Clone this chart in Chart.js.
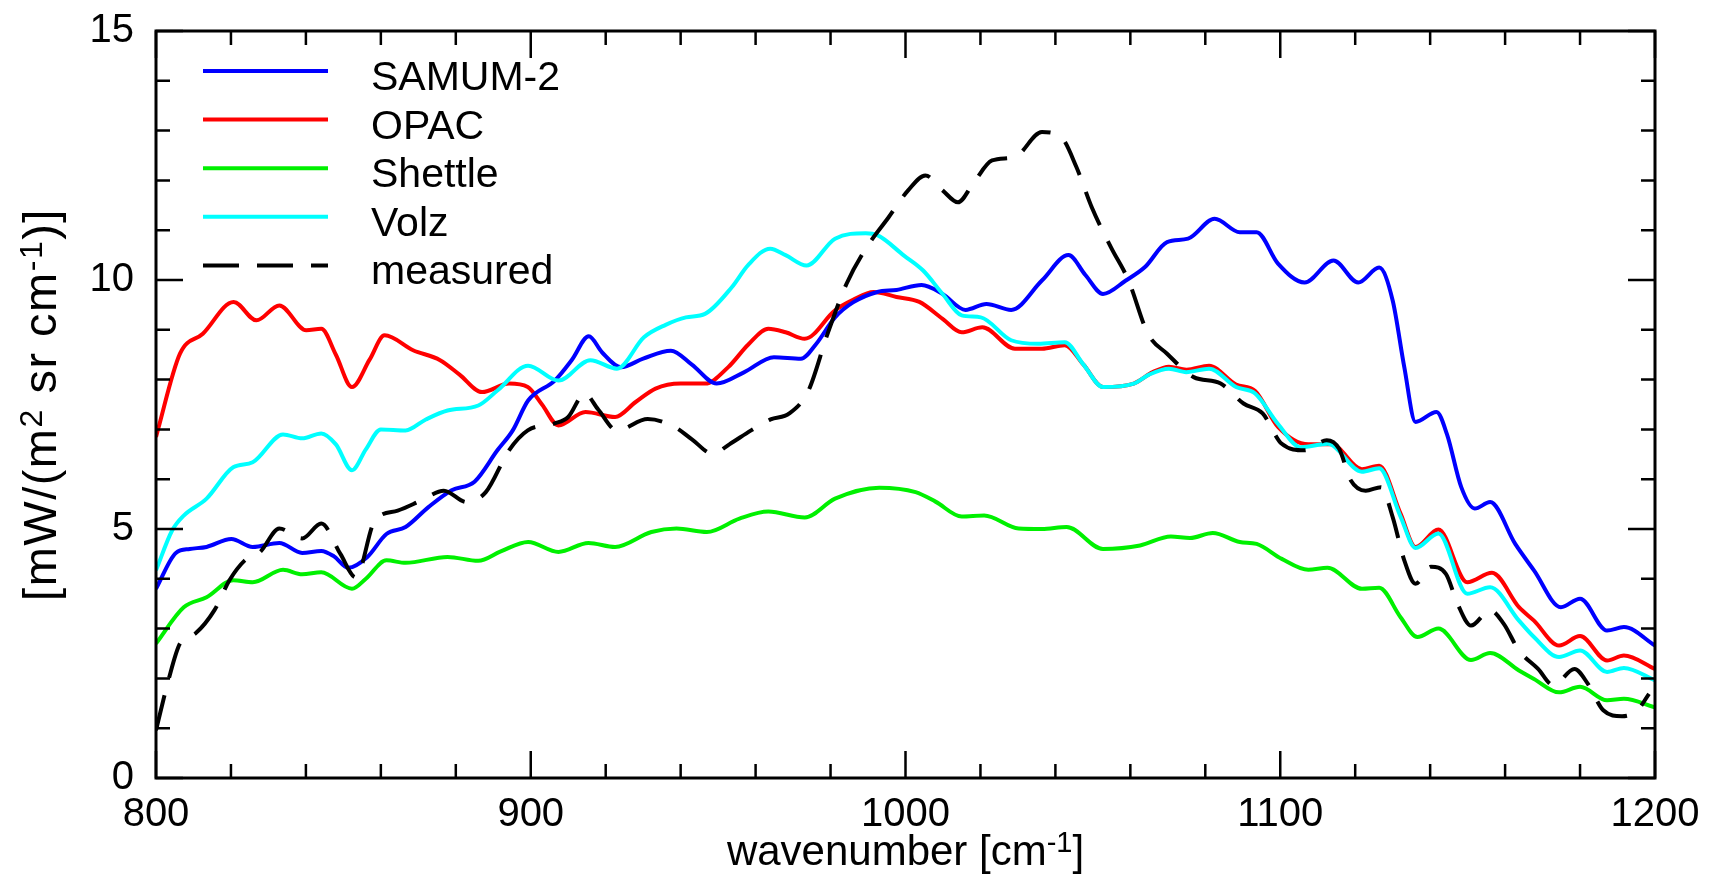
<!DOCTYPE html>
<html>
<head>
<meta charset="utf-8">
<script src="https://cdn.jsdelivr.net/npm/chart.js@4.4.1/dist/chart.umd.min.js"></script>
<style>
  html, body { margin: 0; padding: 0; background: #fff; }
  canvas { display: block; }
</style>
</head>
<body>
<canvas id="spectrumChart" width="1710" height="886"></canvas>
<script>
// [wavenumber cm-1, radiance mW/(m2 sr cm-1)]
const samum2 = [
  [800, 3.8], [805.3, 4.52], [809, 4.6], [813.5, 4.64], [820.1, 4.8], [825.8, 4.64], [832.9, 4.72],
  [839, 4.52], [844.1, 4.56], [847.5, 4.45], [851.3, 4.22], [856.4, 4.44], [861.5, 4.9], [866.6, 5.04],
  [872.7, 5.44], [878.9, 5.78], [885, 5.95], [891.1, 6.58], [895.2, 6.98], [899.3, 7.58], [906.4, 7.98],
  [911, 8.4], [915.5, 8.87], [919, 8.55], [924.1, 8.25], [930, 8.42], [937.4, 8.58], [943, 8.3],
  [949.6, 7.92], [957, 8.15], [964.9, 8.45], [972.1, 8.42], [976, 8.7], [981.2, 9.25], [986, 9.55],
  [992.5, 9.76], [997.6, 9.8], [1004.3, 9.9], [1009.9, 9.72], [1016, 9.4], [1021.6, 9.52], [1028.2, 9.4],
  [1036.4, 9.99], [1043.5, 10.5], [1048, 10.1], [1052.7, 9.72], [1058.8, 9.99], [1063.9, 10.26],
  [1069.8, 10.76], [1075.4, 10.83], [1082.5, 11.23], [1089.2, 10.96], [1093.7, 10.96], [1099.4, 10.33],
  [1106.5, 9.95], [1114.2, 10.39], [1120.8, 9.95], [1126.4, 10.25], [1130, 9.59], [1133.1, 8.25],
  [1136.1, 7.15], [1141.7, 7.35], [1144.5, 6.9], [1148.3, 5.84], [1151.9, 5.41], [1156, 5.54],
  [1162.7, 4.7], [1167.7, 4.17], [1174.9, 3.43], [1180, 3.6], [1187.2, 2.96], [1191.7, 3.03], [1200, 2.66]
];

const opac = [
  [800, 6.85], [806.4, 8.52], [812.5, 8.92], [820.7, 9.56], [826.8, 9.19], [832.9, 9.49], [840.1, 8.99],
  [844.1, 9.02], [848, 8.5], [852.3, 7.85], [857, 8.4], [861, 8.89], [868.6, 8.59], [875.8, 8.39],
  [881, 8.1], [887, 7.75], [894.2, 7.92], [899.2, 7.85], [903, 7.5], [907.4, 7.08], [914.6, 7.35],
  [922.5, 7.25], [928, 7.55], [933.3, 7.82], [940, 7.92], [946.5, 7.92], [952.7, 8.25], [958, 8.7],
  [963.4, 9.02], [968, 8.95], [973.1, 8.82], [981.2, 9.39], [986, 9.6], [991.5, 9.76], [997.6, 9.66],
  [1003.7, 9.56], [1009.9, 9.22], [1015, 8.95], [1020.5, 9.05], [1029.2, 8.62], [1036.4, 8.62],
  [1042.5, 8.69], [1047.5, 8.3], [1052.7, 7.85], [1060.9, 7.92], [1066, 8.15], [1070.3, 8.26],
  [1075, 8.2], [1081, 8.28], [1088.2, 7.9], [1093.3, 7.77], [1099.4, 7.05], [1107.5, 6.7],
  [1113.7, 6.7], [1121.8, 6.2], [1126.4, 6.27], [1132.1, 5.31], [1136.1, 4.64], [1142.2, 4.99],
  [1149.9, 3.93], [1156.5, 4.12], [1163.7, 3.43], [1167.7, 3.16], [1174.4, 2.66], [1180, 2.85],
  [1187.2, 2.36], [1191.7, 2.46], [1200, 2.19]
];

const shettle = [
  [800, 2.7], [807.4, 3.43], [813.5, 3.63], [820.6, 3.97], [825.8, 3.93], [833.9, 4.18], [839, 4.09],
  [844.1, 4.13], [852.3, 3.8], [856, 4.0], [861.5, 4.37], [866.6, 4.32], [877.8, 4.44], [886, 4.36],
  [892, 4.55], [899.3, 4.74], [907.4, 4.54], [915.4, 4.72], [922.5, 4.64], [932.2, 4.94], [938.9, 5.01],
  [947, 4.94], [955.7, 5.21], [963.4, 5.35], [973.1, 5.23], [981.2, 5.61], [993, 5.83], [1002.7, 5.74],
  [1008, 5.55], [1015, 5.25], [1021, 5.27], [1030.2, 5.01], [1036.4, 5.0], [1043, 5.04], [1052.7, 4.6],
  [1062.6, 4.67], [1070.8, 4.85], [1075.9, 4.82], [1082, 4.92], [1089.2, 4.74], [1093.7, 4.7],
  [1100.4, 4.4], [1107.5, 4.18], [1112.6, 4.22], [1121.8, 3.8], [1126.4, 3.82], [1132.1, 3.23],
  [1136.6, 2.83], [1142.2, 3.0], [1150.9, 2.37], [1156, 2.51], [1163.7, 2.16], [1167.7, 1.99],
  [1174.4, 1.72], [1180, 1.83], [1187.2, 1.56], [1191.7, 1.59], [1200, 1.42]
];

const volz = [
  [800, 4.17], [804.3, 4.97], [807.4, 5.27], [813.5, 5.61], [820.6, 6.24], [825.8, 6.34], [833.9, 6.9],
  [839, 6.82], [844.1, 6.92], [848, 6.7], [852.3, 6.18], [856, 6.6], [860, 7.0], [866.6, 6.98],
  [872, 7.2], [877.8, 7.38], [886, 7.48], [891.1, 7.78], [899.3, 8.28], [907.4, 7.98], [915.9, 8.39],
  [923, 8.22], [930.2, 8.85], [936, 9.1], [941.4, 9.25], [946.5, 9.32], [953.7, 9.86], [958, 10.3],
  [963.9, 10.63], [968, 10.5], [973.6, 10.29], [981.2, 10.83], [989.4, 10.94], [992.5, 10.9],
  [999.6, 10.49], [1004.7, 10.19], [1009.9, 9.72], [1015, 9.29], [1020.1, 9.25], [1028.2, 8.79],
  [1035.4, 8.72], [1042.5, 8.75], [1047.5, 8.3], [1052.7, 7.85], [1060.9, 7.92], [1065, 8.1],
  [1070.3, 8.22], [1074.9, 8.15], [1081, 8.22], [1088.2, 7.85], [1093.3, 7.72], [1099.4, 7.11],
  [1105.5, 6.64], [1112.7, 6.71], [1121.8, 6.15], [1126.4, 6.22], [1132.1, 5.25], [1136.1, 4.62],
  [1142.2, 4.91], [1149.9, 3.7], [1156, 3.83], [1163.7, 3.16], [1167.7, 2.83], [1174.4, 2.43],
  [1180, 2.56], [1187.2, 2.13], [1191.7, 2.21], [1200, 1.96]
];

const measured = [
  [800, 0.96], [803.3, 1.96], [806.4, 2.7], [810.5, 2.9], [815.6, 3.37], [819.6, 3.97], [823.7, 4.37],
  [827.8, 4.54], [832.9, 5.01], [839, 4.81], [844.1, 5.11], [849.2, 4.5], [853.3, 4.03], [858.4, 5.17],
  [864.5, 5.37], [870.7, 5.57], [876.8, 5.77], [882.9, 5.54], [888, 5.74], [894.2, 6.58], [899.2, 6.98],
  [906.4, 7.12], [910, 7.25], [914.4, 7.72], [918, 7.4], [923, 6.98], [931.2, 7.21], [938.4, 7.05],
  [943, 6.8], [948.6, 6.51], [953, 6.7], [958.8, 6.98], [964, 7.2], [969, 7.32], [974.1, 7.78],
  [979.2, 8.92], [984.3, 9.93], [989.4, 10.63], [995.5, 11.26], [1000.7, 11.8], [1005.3, 12.1],
  [1009.9, 11.8], [1014, 11.56], [1018, 11.93], [1023.1, 12.4], [1029.2, 12.47], [1036.4, 12.97],
  [1041.5, 12.87], [1045.6, 12.27], [1049.7, 11.46], [1054.8, 10.66], [1059.5, 9.99], [1064.7, 8.92],
  [1069.8, 8.52], [1076.9, 8.05], [1084.1, 7.92], [1090.2, 7.52], [1095.3, 7.32], [1100.4, 6.71],
  [1106.5, 6.58], [1112.4, 6.78], [1115.7, 6.61], [1118.8, 5.98], [1122.8, 5.77], [1126.9, 5.84],
  [1130, 5.24], [1133.1, 4.37], [1136.1, 3.9], [1140.2, 4.24], [1144.2, 4.1], [1147.3, 3.5],
  [1150.9, 3.06], [1156, 3.37], [1159.6, 3.1], [1163.7, 2.56], [1168.8, 2.19], [1172.9, 1.86],
  [1178.5, 2.19], [1182.1, 1.89], [1186.2, 1.36], [1191.2, 1.24], [1195.3, 1.36], [1198.4, 1.69]
];

const xRange = [800, 1200];
const yRange = [0, 15];
const xMajor = 100, xMinor = 20;
const yMajor = 5, yMinor = 1;

// axis titles, pieces flagged sup are raised superscripts
const xTitle = [['wavenumber [cm'], ['-1', 'sup'], [']']];
const yTitle = [['[mW/(m'], ['2', 'sup'], [' sr cm'], ['-1', 'sup'], [')]']];

const FONT = '"Liberation Sans", Arial, Helvetica, sans-serif';
Chart.defaults.font.family = FONT;
Chart.defaults.font.size = 40;
Chart.defaults.color = '#000';

const makeSet = (label, rows, color, order, dash) => ({
    label,
    data: rows.map(([x, y]) => ({ x, y })),
    borderColor: color,
    borderWidth: 4,
    borderDash: dash || [],
    pointRadius: 0,
    fill: false,
    cubicInterpolationMode: 'monotone',
    order,
});

// inward ticks on all four sides + frame
const frameTicks = {
    id: 'frameTicks',
    afterDatasetsDraw(chart) {
        const { ctx, chartArea: a, scales: { x, y } } = chart;
        ctx.save();
        ctx.strokeStyle = '#000';
        ctx.lineWidth = 2.5;
        ctx.beginPath();
        for (let v = xRange[0]; v <= xRange[1]; v += xMinor) {
            const px = x.getPixelForValue(v);
            const len = v % xMajor === 0 ? 27 : 14;
            ctx.moveTo(px, a.bottom); ctx.lineTo(px, a.bottom - len);
            ctx.moveTo(px, a.top); ctx.lineTo(px, a.top + len);
        }
        for (let v = yRange[0]; v <= yRange[1]; v += yMinor) {
            const py = y.getPixelForValue(v);
            const len = v % yMajor === 0 ? 27 : 14;
            ctx.moveTo(a.left, py); ctx.lineTo(a.left + len, py);
            ctx.moveTo(a.right, py); ctx.lineTo(a.right - len, py);
        }
        ctx.stroke();
        ctx.lineWidth = 3;
        ctx.strokeRect(a.left, a.top, a.width, a.height);
        ctx.restore();
    }
};

// legend drawn inside the plot, top-left
const insideLegend = {
    id: 'insideLegend',
    afterDraw(chart) {
        const { ctx, chartArea: a } = chart;
        ctx.save();
        ctx.font = '41px ' + FONT;
        ctx.textBaseline = 'alphabetic';
        chart.data.datasets.forEach((ds, i) => {
            const ly = a.top + 40 + i * 48.6;
            ctx.strokeStyle = ds.borderColor;
            ctx.lineWidth = 4;
            ctx.setLineDash(ds.borderDash);
            ctx.beginPath();
            ctx.moveTo(a.left + 47, ly);
            ctx.lineTo(a.left + 172, ly);
            ctx.stroke();
            ctx.setLineDash([]);
            ctx.fillStyle = '#000';
            ctx.fillText(ds.label, a.left + 215, ly + 19);
        });
        ctx.restore();
    }
};

// titles with real superscripts
function drawRich(ctx, parts, size, spacing) {
    const supSize = Math.round(size * 0.68);
    const fontOf = p => (p[1] === 'sup' ? supSize : size) + 'px ' + FONT;
    ctx.letterSpacing = spacing + 'px';
    let total = 0;
    parts.forEach(p => { ctx.font = fontOf(p); total += ctx.measureText(p[0]).width; });
    let cx = -total / 2;
    parts.forEach(p => {
        ctx.font = fontOf(p);
        ctx.fillText(p[0], cx, p[1] === 'sup' ? -size * 0.3 : 0);
        cx += ctx.measureText(p[0]).width;
    });
}

const axisTitles = {
    id: 'axisTitles',
    afterDraw(chart) {
        const { ctx, chartArea: a } = chart;
        ctx.save();
        ctx.fillStyle = '#000';
        ctx.textBaseline = 'alphabetic';
        ctx.textAlign = 'left';
        ctx.save();
        ctx.translate((a.left + a.right) / 2, chart.height - 21);
        drawRich(ctx, xTitle, 42, 0);
        ctx.restore();
        ctx.translate(a.left - 100, (a.top + a.bottom) / 2);
        ctx.rotate(-Math.PI / 2);
        drawRich(ctx, yTitle, 47, 1.5);
        ctx.restore();
    }
};

new Chart(document.getElementById('spectrumChart'), {
    type: 'line',
    data: {
        datasets: [
            makeSet('SAMUM-2', samum2, '#0000ff', 2),
            makeSet('OPAC', opac, '#ff0000', 3),
            makeSet('Shettle', shettle, '#00f000', 4),
            makeSet('Volz', volz, '#00ffff', 1),
            makeSet('measured', measured, '#000000', 0, [36, 18]),
        ]
    },
    options: {
        responsive: false,
        animation: false,
        layout: { autoPadding: false, padding: { top: 31, right: 55, left: 0, bottom: 0 } },
        plugins: {
            legend: { display: false },
            tooltip: { enabled: false },
        },
        scales: {
            x: {
                type: 'linear',
                min: xRange[0],
                max: xRange[1],
                grid: { display: false, drawTicks: false },
                border: { display: false },
                ticks: { stepSize: xMajor, padding: 13, maxRotation: 0, callback: v => String(v) },
                afterFit: s => { s.height = 108; s.paddingLeft = 0; s.paddingRight = 0; },
            },
            y: {
                min: yRange[0],
                max: yRange[1],
                grid: { display: false, drawTicks: false },
                border: { display: false },
                ticks: { stepSize: yMajor, padding: 22, callback: v => String(v) },
                afterFit: s => { s.width = 156; s.paddingTop = 0; s.paddingBottom = 0; },
            }
        }
    },
    plugins: [frameTicks, insideLegend, axisTitles]
});
</script>
</body>
</html>
